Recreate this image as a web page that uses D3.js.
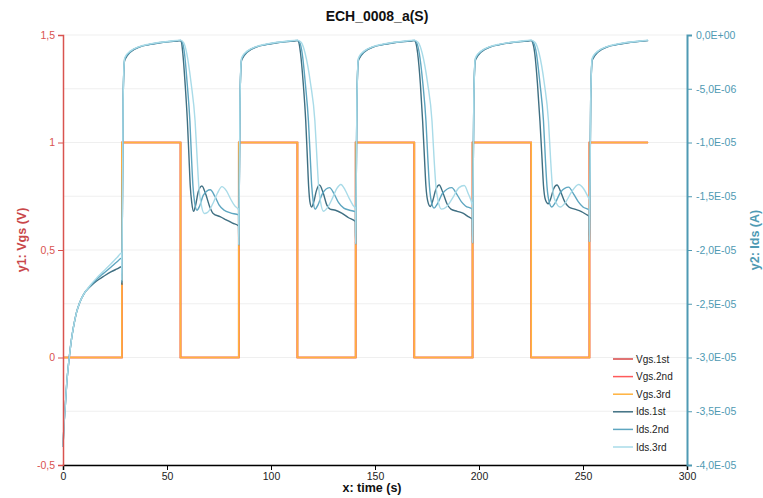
<!DOCTYPE html>
<html><head><meta charset="utf-8">
<script src="https://cdn.jsdelivr.net/npm/d3@7/dist/d3.min.js"></script>
<style>body{margin:0;background:#fff}svg{display:block}</style>
</head><body><svg id="c" width="763" height="498"></svg>
<script>
const chartTitle = "ECH_0008_a(S)";
const xTitle = "x: time (s)";
const y1Title = "y1: Vgs (V)";
const y2Title = "y2: Ids (A)";
const xTicks = [0, 50, 100, 150, 200, 250, 300];
const y1Ticks = [-0.5, 0, 0.5, 1, 1.5];
const y2TicksMicroA = [-40, -35, -30, -25, -20, -15, -10, -5, 0]; // Ids in µA
const seriesNames = ["Vgs.1st", "Vgs.2nd", "Vgs.3rd", "Ids.1st", "Ids.2nd", "Ids.3rd"];

// Vgs (V) — step signal
const vgsTime = [0, 28.3, 28.3, 56.5, 56.5, 84.5, 84.5, 112.7, 112.7, 140.7, 140.7, 168.9, 168.9, 196.9, 196.9, 225.1, 225.1, 253.1, 253.1, 281.3];
const vgs1st = [0, 0, 1, 1, 0, 0, 1, 1, 0, 0, 1, 1, 0, 0, 1, 1, 0, 0, 1, 1];
const vgs2nd = [0, 0, 1, 1, 0, 0, 1, 1, 0, 0, 1, 1, 0, 0, 1, 1, 0, 0, 1, 1];
const vgs3rd = [0, 0, 1, 1, 0, 0, 1, 1, 0, 0, 1, 1, 0, 0, 1, 1, 0, 0, 1, 1];

// Ids [time s, current µA]
const ids1st = [
[0,-38.3],[0.5,-36.2],[1,-34.8],[1.8,-32.4],[3,-30],[4,-28.4],[5,-27.2],[6.5,-25.8],[8,-24.9],[10,-24.1],
[13,-23.42],[16,-22.9],[19.3,-22.48],[23,-22.04],[26,-21.76],[28.2,-21.56],
[28.3,-23.2],[28.9,-6],[29.6,-2.4],[30.3,-2.1],[32.3,-1.6],[37,-1.1],[41.3,-0.9],[46.7,-0.72],[51.3,-0.62],[56.4,-0.52],
[56.5,-0.5],[57.0,-0.7],[57.6,-1.7],[58.7,-4.5],[59.8,-8],[60.6,-11.5],[61.2,-14.1],[61.9,-15.6],[62.8,-16.4],[63.8,-15.8],[65.0,-14.6],[66.8,-14.05],[68.6,-14.8],[70.4,-15.9],[72.2,-16.6],[75.5,-16.9],[78.5,-17.2],[81.5,-17.5],[84.4,-17.76],
[84.5,-19.5],[85.1,-6],[85.8,-2.4],[86.5,-2.1],[88.5,-1.6],[93.2,-1.1],[97.5,-0.9],[102.9,-0.72],[107.5,-0.62],[112.6,-0.52],
[112.7,-0.5],[113.4,-0.7],[114.2,-1.7],[115.5,-4.5],[116.7,-8],[117.5,-11.5],[118.1,-14.1],[118.7,-15.5],[119.5,-16.0],[120.6,-15.5],[121.8,-14.5],[123.3,-13.95],[125.1,-14.7],[126.8,-15.8],[128.4,-16.2],[131,-16.3],[134,-16.56],[137.3,-17.0],[140.6,-17.36],
[140.7,-19.4],[141.3,-6],[142,-2.4],[142.7,-2.1],[144.7,-1.6],[149.4,-1.1],[153.7,-0.9],[159.1,-0.72],[163.7,-0.62],[168.8,-0.52],
[168.9,-0.5],[169.6,-0.7],[170.5,-1.7],[171.8,-4.5],[172.9,-8],[173.8,-11.5],[174.5,-14.1],[175.3,-15.4],[176.6,-15.95],[177.8,-15.4],[179.2,-14.4],[180.9,-13.95],[182.7,-14.7],[184.6,-15.7],[186.5,-16.2],[189.5,-16.4],[192.5,-16.6],[194.8,-16.9],[196.8,-17.14],
[196.9,-19.3],[197.5,-6],[198.2,-2.4],[198.9,-2.1],[200.9,-1.6],[205.6,-1.1],[209.9,-0.9],[215.3,-0.72],[219.9,-0.62],[225,-0.52],
[225.1,-0.5],[225.8,-0.7],[226.8,-1.7],[228.1,-4.5],[229.3,-8],[230.3,-11.5],[231.0,-14.0],[231.9,-15.3],[233.3,-15.7],[234.5,-15.2],[235.9,-14.3],[237.5,-13.96],[239.3,-14.6],[241.2,-15.5],[243.2,-16.0],[246,-16.2],[249,-16.4],[251.2,-16.65],[253,-16.9],
[253.1,-19.2],[253.7,-6],[254.4,-2.4],[255.1,-2.1],[257.1,-1.6],[261.8,-1.1],[266.1,-0.9],[271.5,-0.72],[276.1,-0.62],[281.3,-0.52]
];
const ids2nd = [
[0,-38.3],[0.5,-36.2],[1,-34.8],[1.8,-32.4],[3,-30],[4,-28.4],[5,-27.2],[6.5,-25.8],[8,-24.9],[10,-24.1],
[13,-23.36],[16,-22.76],[19.3,-22.2],[23,-21.6],[26,-21.1],[28.2,-20.76],
[28.3,-23.0],[28.9,-6],[29.6,-2.3],[30.3,-2.0],[32.3,-1.56],[37,-1.08],[41.3,-0.88],[46.7,-0.7],[51.3,-0.6],[56.4,-0.5],
[56.5,-0.5],[57.4,-0.7],[58.4,-1.7],[59.7,-4.5],[61.0,-8],[61.8,-11.5],[62.5,-14.1],[63.3,-15.6],[64.4,-16.3],[65.7,-15.9],[67.5,-14.9],[70.8,-14.4],[73,-15.0],[75,-15.8],[77.5,-16.3],[80.5,-16.55],[84.4,-16.74],
[84.5,-19.5],[85.1,-6],[85.8,-2.3],[86.5,-2.0],[88.5,-1.56],[93.2,-1.08],[97.5,-0.88],[102.9,-0.7],[107.5,-0.6],[112.6,-0.5],
[112.7,-0.5],[113.8,-0.7],[115,-1.7],[116.5,-4.5],[118,-8],[118.9,-11.5],[119.6,-14.1],[120.3,-15.5],[121.2,-16.2],[122.6,-15.8],[124.6,-14.8],[128.1,-14.2],[130.4,-14.8],[132.5,-15.6],[135,-16.1],[137.8,-16.3],[140.6,-16.44],
[140.7,-19.4],[141.3,-6],[142,-2.3],[142.7,-2.0],[144.7,-1.56],[149.4,-1.08],[153.7,-0.88],[159.1,-0.7],[163.7,-0.6],[168.8,-0.5],
[168.9,-0.5],[170,-0.7],[171.3,-1.7],[173,-4.5],[174.5,-8],[175.4,-11.5],[176.2,-14.1],[177,-15.4],[178.4,-16.1],[180,-15.7],[182.6,-14.7],[186.9,-14.2],[189.3,-14.8],[191.5,-15.5],[193.5,-15.9],[196.8,-16.2],
[196.9,-19.3],[197.5,-6],[198.2,-2.3],[198.9,-2.0],[200.9,-1.56],[205.6,-1.08],[209.9,-0.88],[215.3,-0.7],[219.9,-0.6],[225,-0.5],
[225.1,-0.5],[226.2,-0.7],[227.6,-1.7],[229.3,-4.5],[231,-8],[231.9,-11.5],[232.7,-14.1],[233.6,-15.4],[235,-16.0],[236.7,-15.6],[239.3,-14.6],[243.1,-14.15],[245.5,-14.8],[247.7,-15.5],[250,-16.0],[253,-16.28],
[253.1,-19.2],[253.7,-6],[254.4,-2.3],[255.1,-2.0],[257.1,-1.56],[261.8,-1.08],[266.1,-0.88],[271.5,-0.7],[276.1,-0.6],[281.3,-0.5]
];
const ids3rd = [
[0,-38.3],[0.5,-36.2],[1,-34.8],[1.8,-32.4],[3,-30],[4,-28.4],[5,-27.2],[6.5,-25.8],[8,-24.9],[10,-24.1],
[13,-23.3],[16,-22.64],[19.3,-22.0],[23,-21.3],[26,-20.7],[28.2,-20.28],
[28.3,-22.8],[28.9,-6],[29.6,-2.2],[30.3,-1.9],[32.3,-1.5],[37,-1.05],[41.3,-0.85],[46.7,-0.68],[51.3,-0.58],[56.4,-0.48],
[56.5,-0.48],[58.0,-0.7],[59.5,-1.7],[61.6,-4.5],[63.5,-8],[64.5,-11.5],[65.3,-14.1],[66.3,-15.6],[67.9,-16.6],[69.5,-16.5],[72,-15.7],[74.3,-14.7],[76.4,-14.1],[78.6,-14.5],[80.7,-15.3],[82.6,-15.9],[84.4,-16.28],
[84.5,-19.5],[85.1,-6],[85.8,-2.2],[86.5,-1.9],[88.5,-1.5],[93.2,-1.05],[97.5,-0.85],[102.9,-0.68],[107.5,-0.58],[112.6,-0.48],
[112.7,-0.48],[114.6,-0.7],[116.4,-1.7],[119,-4.5],[121.1,-8],[122.1,-11.5],[122.9,-14.1],[123.8,-15.5],[125.2,-16.4],[127,-16.1],[129.5,-15.2],[131.6,-14.3],[133.6,-13.9],[135.6,-14.4],[137.6,-15.2],[139.3,-15.8],[140.6,-16.2],
[140.7,-19.4],[141.3,-6],[142,-2.2],[142.7,-1.9],[144.7,-1.5],[149.4,-1.05],[153.7,-0.85],[159.1,-0.68],[163.7,-0.58],[168.8,-0.48],
[168.9,-0.48],[170.8,-0.7],[172.7,-1.7],[175.3,-4.5],[177.4,-8],[178.4,-11.5],[179.3,-14.1],[180.3,-15.4],[182,-16.2],[184.3,-16.0],[187.5,-15.1],[190.4,-14.2],[192.9,-14.0],[194.9,-14.8],[196.8,-15.9],
[196.9,-19.3],[197.5,-6],[198.2,-2.2],[198.9,-1.9],[200.9,-1.5],[205.6,-1.05],[209.9,-0.85],[215.3,-0.68],[219.9,-0.58],[225,-0.48],
[225.1,-0.48],[227,-0.7],[228.9,-1.7],[231.4,-4.5],[233.4,-8],[234.4,-11.5],[235.3,-14.1],[236.4,-15.3],[239.1,-16.0],[241.5,-15.6],[244.5,-14.6],[247.9,-13.9],[250.3,-14.3],[252,-14.9],[253,-15.34],
[253.1,-19.2],[253.7,-6],[254.4,-2.2],[255.1,-1.9],[257.1,-1.5],[261.8,-1.05],[266.1,-0.85],[271.5,-0.68],[276.1,-0.58],[281.3,-0.48]
];

const colors = {"Vgs.1st":"#d64545","Vgs.2nd":"#ff5a5a","Vgs.3rd":"#ffb23e","Ids.1st":"#3f6f82","Ids.2nd":"#5ea6c0","Ids.3rd":"#a9dbe8"};
const leftColor = "#d9534f", rightColor = "#4f9ab3";
const font = "'Liberation Sans', Arial, sans-serif";

const svg = d3.select("#c");
const L = 63, R = 687, T = 35, B = 465;
const x = d3.scaleLinear().domain([0, 300]).range([L, R]);
const y1 = d3.scaleLinear().domain([-0.5, 1.5]).range([B, T]);
const y2 = d3.scaleLinear().domain([-40, 0]).range([B, T]);

// grid
svg.append("g").selectAll("line").data(y2TicksMicroA).join("line")
  .attr("x1", L).attr("x2", R).attr("y1", d => y2(d)).attr("y2", d => y2(d))
  .attr("stroke", "#efefef").attr("stroke-width", 1);

const line = d3.line().x(d => x(d[0])).y(d => d[1]).curve(d3.curveMonotoneX);

const vgsData = [vgs1st, vgs2nd, vgs3rd];
vgsData.forEach((vals, i) => {
  const pts = vgsTime.map((t, j) => [t, y1(vals[j])]);
  svg.append("path").attr("d", d3.line().x(d => x(d[0])).y(d => d[1])(pts))
    .attr("fill", "none").attr("stroke", colors[seriesNames[i]]).attr("stroke-width", 1.6);
});
[ids1st, ids2nd, ids3rd].forEach((s, i) => {
  const pts = s.map(d => [d[0], y2(d[1])]);
  svg.append("path").attr("d", line(pts))
    .attr("fill", "none").attr("stroke", colors[seriesNames[i + 3]]).attr("stroke-width", 1.4);
});

function fmtLeft(v) { return String(v).replace(".", ","); }
function fmtRight(v) {
  const a = v * 1e-6;
  if (a === 0) return "0,0E+00";
  let e = Math.floor(Math.log10(Math.abs(a)) + 1e-9);
  const m = a / Math.pow(10, e);
  return m.toFixed(1).replace(".", ",") + "E" + (e < 0 ? "-" : "+") + String(Math.abs(e)).padStart(2, "0");
}

// bottom axis
const gx = svg.append("g").attr("transform", `translate(0,${B})`)
  .call(d3.axisBottom(x).tickValues(xTicks).tickSize(5).tickPadding(3).tickFormat(d3.format("d")));
gx.select(".domain").attr("stroke", "#000").attr("stroke-width", 1.5);
gx.selectAll(".tick line").attr("stroke", "#000");
gx.selectAll("text").attr("fill", "#222").style("font-family", font).style("font-size", "10.5px");

// left axis
const gl = svg.append("g").attr("transform", `translate(${L},0)`)
  .call(d3.axisLeft(y1).tickValues(y1Ticks).tickSize(5).tickPadding(3).tickFormat(fmtLeft));
gl.select(".domain").attr("stroke", leftColor).attr("stroke-width", 1.5);
gl.selectAll(".tick line").attr("stroke", leftColor);
gl.selectAll("text").attr("fill", leftColor).style("font-family", font).style("font-size", "10.5px");

// right axis
const gr = svg.append("g").attr("transform", `translate(${R},0)`)
  .call(d3.axisRight(y2).tickValues(y2TicksMicroA).tickSize(5).tickPadding(4).tickFormat(fmtRight));
gr.select(".domain").attr("stroke", rightColor).attr("stroke-width", 2);
gr.selectAll(".tick line").attr("stroke", rightColor);
gr.selectAll("text").attr("fill", rightColor).style("font-family", font).style("font-size", "10.5px");

// titles
svg.append("text").attr("x", 377).attr("y", 21).attr("text-anchor", "middle")
  .style("font-family", font).style("font-size", "14px").style("font-weight", "bold").attr("fill", "#111").text(chartTitle);
svg.append("text").attr("x", 372).attr("y", 492).attr("text-anchor", "middle")
  .style("font-family", font).style("font-size", "12.5px").style("font-weight", "bold").attr("fill", "#111").text(xTitle);
svg.append("text").attr("transform", `translate(26,240) rotate(-90)`).attr("text-anchor", "middle")
  .style("font-family", font).style("font-size", "12.5px").style("font-weight", "bold").attr("fill", "#c9474a").text(y1Title);
svg.append("text").attr("transform", `translate(759,240) rotate(-90)`).attr("text-anchor", "middle")
  .style("font-family", font).style("font-size", "12.5px").style("font-weight", "bold").attr("fill", rightColor).text(y2Title);

// legend
const lg = svg.append("g");
seriesNames.forEach((n, i) => {
  const yy = 359 + i * 17.6;
  lg.append("line").attr("x1", 613).attr("x2", 633).attr("y1", yy).attr("y2", yy)
    .attr("stroke", colors[n]).attr("stroke-width", 1.5);
  lg.append("text").attr("x", 636).attr("y", yy + 3.5).style("font-family", font)
    .style("font-size", "10px").attr("fill", "#222").text(n);
});
</script></body></html>
